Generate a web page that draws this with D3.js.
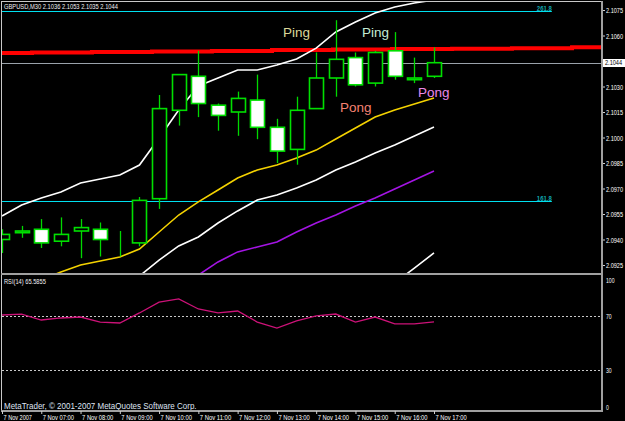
<!doctype html>
<html lang="en">
<head>
<meta charset="utf-8">
<title>GBPUSD,M30</title>
<script src="https://cdn.jsdelivr.net/npm/d3@7/dist/d3.min.js"></script>
<style>
  body { margin:0; background:#000; }
  svg { display:block; background:#000; }
  text { font-family: "Liberation Sans", Arial, sans-serif; }
</style>
</head>
<body>
<svg width="625" height="421"></svg>
<script>
// M30 bars, index 0 = 7 Nov 2007 06:00
var opens  = [2.0940, 2.0944, 2.0946, 2.0939, 2.0945, 2.0946, 2.0939, 2.0938, 2.0964, 2.1016, 2.1036, 2.1019,
              2.1015, 2.1022, 2.1006, 2.0993, 2.1017, 2.1035, 2.1047, 2.1032, 2.1051, 2.1034, 2.1036];
var highs  = [2.0946, 2.0948, 2.0952, 2.0953, 2.0952, 2.0950, 2.0945, 2.0965, 2.1025, 2.1037, 2.1051, 2.1020,
              2.1027, 2.1037, 2.1011, 2.1024, 2.1050, 2.1069, 2.1050, 2.1051, 2.1062, 2.1047, 2.1053];
var lows   = [2.0932, 2.0941, 2.0935, 2.0936, 2.0929, 2.0930, 2.0930, 2.0936, 2.0958, 2.1007, 2.1012, 2.1004,
              2.1001, 2.0999, 2.0985, 2.0984, 2.1017, 2.1024, 2.1030, 2.1030, 2.1034, 2.1032, 2.1035];
var closes = [2.0943, 2.0945, 2.0938, 2.0943, 2.0947, 2.0940, 2.0939, 2.0963, 2.1017, 2.1037, 2.1020, 2.1013,
              2.1023, 2.1006, 2.0992, 2.1016, 2.1035, 2.1046, 2.1031, 2.1050, 2.1036, 2.1035, 2.1044];

// indicator lines (null = off chart)
var upperBand = [2.09538, 2.09603, 2.09644, 2.09679, 2.09732, 2.09756, 2.09779, 2.09838, 2.09997, 2.10162, 2.10303, 2.10350,
                 2.10397, 2.10397, 2.10426, 2.10462, 2.10526, 2.10621, 2.10679, 2.10732, 2.10768, 2.10791, 2.10809];
var yellowMA  = [null, null, 2.09162, 2.09209, 2.09250, 2.09274, 2.09297, 2.09344, 2.09444, 2.09544, 2.09621, 2.09691,
                 2.09762, 2.09809, 2.09838, 2.09879, 2.09926, 2.09991, 2.10056, 2.10121, 2.10162, 2.10197, 2.10232];
var middleMA  = [null, null, null, null, null, null, null, 2.09185, 2.09279, 2.09362, 2.09415, 2.09497,
                 2.09568, 2.09632, 2.09662, 2.09703, 2.09750, 2.09809, 2.09856, 2.09909, 2.09956, 2.10009, 2.10062];
var purpleMA  = [null, null, null, null, null, null, null, null, null, null, 2.09191, 2.09268,
                 2.09327, 2.09356, 2.09385, 2.09444, 2.09497, 2.09544, 2.09597, 2.09644, 2.09697, 2.09750, 2.09803];
var lowerBand = [null, null, null, null, null, null, null, null, null, null, null, null,
                 null, null, null, null, null, null, null, null, 2.09144, 2.09232, 2.09321];

// red stepped line: start index of each step and its level
var redStarts = [0, 1.53, 4.58, 7.64, 10.69, 13.75, 16.85, 19.86, 22.92, 25.97, 29.03, 30.56];
var redLevels = [2.10497, 2.10500, 2.10503, 2.10506, 2.10509, 2.10515, 2.10518, 2.10521, 2.10522, 2.10525, 2.10531, 2.10531];

var fibLabels = ["261.8", "161.8"];
var fibPrices = [2.10744, 2.09626];
var fibEnd = 28;

var lastPrice = 2.1044;

var rsiValues = [70.6, 71.3, 66.9, 68.4, 69.1, 65.4, 64.7, 72.1, 80.1, 82.4, 75.0, 72.1,
                 73.5, 65.4, 61.0, 66.2, 69.9, 71.3, 65.4, 69.1, 64.0, 64.0, 65.59];
var rsiTicks = [0, 30, 70, 100];
var rsiLevels = [30, 70];

var priceTicks = [2.1075, 2.1060, 2.1030, 2.1015, 2.1000, 2.0985, 2.0970, 2.0955, 2.0940, 2.0925];
var timeIdx = [0, 2, 4, 6, 8, 10, 12, 14, 16, 18, 20, 22];
var timeLabels = ["7 Nov 2007", "7 Nov 07:00", "7 Nov 08:00", "7 Nov 09:00", "7 Nov 10:00", "7 Nov 11:00",
                  "7 Nov 12:00", "7 Nov 13:00", "7 Nov 14:00", "7 Nov 15:00", "7 Nov 16:00", "7 Nov 17:00"];

var noteTexts  = ["Ping", "Ping", "Pong", "Pong"];
var noteIdx    = [14.31, 18.33, 17.21, 21.19];
var notePrices = [2.10591, 2.10591, 2.10152, 2.10240];
var noteColors = ["#ddd89a", "#c4ecd4", "#f48272", "#ea88ea"];

var svg = d3.select("svg");
var frameColor = "#a0a0a0";
var smallFont = "8px";
var charW = 2.85; // narrow terminal font, px per character

var x = d3.scaleLinear().domain([0, 22]).range([2, 434]);
var y = d3.scaleLinear().domain([2.0925, 2.1075]).range([265, 10]);
var yr = d3.scaleLinear().domain([0, 100]).range([411, 275]);

// squeeze a label horizontally to the narrow width of the terminal font
function narrow(sel, width) {
  sel.each(function() {
    var t = d3.select(this);
    var target = width || this.textContent.length * charW;
    var s = target / this.getComputedTextLength();
    var x0 = (+t.attr("x") || 0) + (+t.attr("dx") || 0);
    t.attr("transform", "translate(" + x0 + ",0) scale(" + s + ",1) translate(" + (-x0) + ",0)");
  });
}

svg.append("clipPath").attr("id", "mainClip").append("rect")
  .attr("x", 2).attr("y", 2).attr("width", 600).attr("height", 271);
svg.append("clipPath").attr("id", "rsiClip").append("rect")
  .attr("x", 2).attr("y", 275).attr("width", 600).attr("height", 135);

var main = svg.append("g").attr("clip-path", "url(#mainClip)");

// fibonacci levels
fibPrices.forEach(function(p, k) {
  main.append("line")
    .attr("x1", x(0)).attr("x2", x(fibEnd))
    .attr("y1", Math.round(y(p)) + 0.5).attr("y2", Math.round(y(p)) + 0.5)
    .style("stroke", "#00e0f0").style("stroke-width", 1.2);
  main.append("text")
    .attr("x", x(fibEnd) - 15).attr("y", Math.round(y(p)))
    .style("fill", "#10a8b0").style("font-size", smallFont).style("font-weight", "bold")
    .text(fibLabels[k]).call(narrow, 15);
});

// current price line
main.append("line")
  .attr("x1", 2).attr("x2", 602)
  .attr("y1", Math.round(y(lastPrice)) + 0.5).attr("y2", Math.round(y(lastPrice)) + 0.5)
  .style("stroke", "#9aa2aa").style("stroke-width", 1);

// red stepped line
var redLine = d3.line()
  .x(function(d, i) { return x(redStarts[i]); })
  .y(function(d) { return y(d); })
  .curve(d3.curveStepAfter);
main.append("path").datum(redLevels)
  .attr("d", redLine)
  .style("fill", "none").style("stroke", "#ff0000").style("stroke-width", 4);

// moving averages / bands
var maLine = d3.line()
  .defined(function(d) { return d != null; })
  .x(function(d, i) { return x(i); })
  .y(function(d) { return y(d); });
[[upperBand, "#ffffff"], [yellowMA, "#f4d200"], [middleMA, "#ffffff"], [purpleMA, "#a414e4"], [lowerBand, "#ffffff"]]
  .forEach(function(s) {
    main.append("path").datum(s[0])
      .attr("d", maLine)
      .style("fill", "none").style("stroke", s[1]).style("stroke-width", 1.6);
  });

// candles
var candles = main.selectAll("g.candle").data(opens).enter().append("g").attr("class", "candle");
candles.append("line")
  .attr("x1", function(d, i) { return Math.round(x(i)) + 0.5; })
  .attr("x2", function(d, i) { return Math.round(x(i)) + 0.5; })
  .attr("y1", function(d, i) { return y(highs[i]); })
  .attr("y2", function(d, i) { return y(lows[i]); })
  .style("stroke", "#00d800").style("stroke-width", 1.3);
candles.append("rect")
  .attr("x", function(d, i) { return Math.round(x(i)) - 6.5; })
  .attr("width", 14)
  .attr("y", function(d, i) { return y(Math.max(opens[i], closes[i])); })
  .attr("height", function(d, i) { return Math.abs(y(opens[i]) - y(closes[i])); })
  .style("fill", function(d, i) { return closes[i] < opens[i] ? "#ffffff" : "#000000"; })
  .style("stroke", "#00e000").style("stroke-width", 1.6);

// notes
noteTexts.forEach(function(t, k) {
  main.append("text")
    .attr("x", x(noteIdx[k])).attr("y", y(notePrices[k]))
    .style("font-size", "13.5px").style("fill", noteColors[k])
    .text(t);
});

// header
svg.append("text").attr("x", 4).attr("y", 9.5)
  .style("fill", "#f0f0f0").style("font-size", smallFont)
  .text("GBPUSD,M30  2.1036 2.1053 2.1035 2.1044").call(narrow, 114);

// RSI panel
var rsi = svg.append("g").attr("clip-path", "url(#rsiClip)");
rsiLevels.forEach(function(v) {
  rsi.append("line")
    .attr("x1", 2).attr("x2", 602)
    .attr("y1", Math.round(yr(v)) + 0.5).attr("y2", Math.round(yr(v)) + 0.5)
    .style("stroke", "#c8c8c8").style("stroke-width", 1).style("stroke-dasharray", "2,2");
});
rsi.append("path").datum(rsiValues)
  .attr("d", d3.line().x(function(d, i) { return x(i); }).y(function(d) { return yr(d); }))
  .style("fill", "none").style("stroke", "#cc1278").style("stroke-width", 1.3);

svg.append("text").attr("x", 4).attr("y", 284.5)
  .style("fill", "#f0f0f0").style("font-size", smallFont)
  .text("RSI(14) 65.5855").call(narrow, 42);

svg.append("text").attr("x", 4).attr("y", 409)
  .style("fill", "#dfe3f2").style("font-size", "9.5px")
  .text("MetaTrader, \u00a9 2001-2007 MetaQuotes Software Corp.").call(narrow, 193);

// frame
svg.append("line").attr("x1", 1).attr("x2", 603).attr("y1", 1.5).attr("y2", 1.5)
  .style("stroke", "#c8c8c8").style("stroke-width", 1);
svg.append("line").attr("x1", 1.5).attr("x2", 1.5).attr("y1", 1).attr("y2", 412)
  .style("stroke", "#c8c8c8").style("stroke-width", 1);
svg.append("line").attr("x1", 1).attr("x2", 603).attr("y1", 274).attr("y2", 274)
  .style("stroke", frameColor).style("stroke-width", 2);
svg.append("line").attr("x1", 1).attr("x2", 603).attr("y1", 411).attr("y2", 411)
  .style("stroke", frameColor).style("stroke-width", 2);

// axes
var priceAxis = svg.append("g").attr("transform", "translate(602,0)")
  .call(d3.axisRight(y).tickValues(priceTicks).tickFormat(d3.format(".4f")).tickSize(3).tickPadding(1));
var rsiAxis = svg.append("g").attr("transform", "translate(602,0)")
  .call(d3.axisRight(yr).tickValues(rsiTicks).tickFormat(d3.format("d")).tickSize(0).tickPadding(4));
rsiAxis.selectAll(".tick text").attr("dy", function(d) { return d === 100 ? "0.9em" : d === 0 ? "-0.2em" : "0.32em"; });
var timeAxis = svg.append("g").attr("transform", "translate(0,411)")
  .call(d3.axisBottom(x).tickValues(timeIdx).tickFormat(function(d, i) { return timeLabels[i]; }).tickSize(3).tickPadding(0));
timeAxis.selectAll(".tick text").attr("text-anchor", "start").attr("dx", 1);

[priceAxis, rsiAxis, timeAxis].forEach(function(a) {
  a.select(".domain").style("stroke", frameColor).style("stroke-width", 2);
  a.selectAll(".tick line").style("stroke", "#d0d0d0");
  a.selectAll(".tick text").style("fill", "#ffffff").style("font-size", smallFont)
    .style("font-family", "'Liberation Sans', Arial, sans-serif").call(narrow);
});
timeAxis.select(".domain").remove();
rsiAxis.select(".domain").attr("d", "M0,1V411");
priceAxis.select(".domain").attr("d", "M0,1V411");

// current price tag
svg.append("rect").attr("x", 603).attr("y", Math.round(y(lastPrice)) - 4).attr("width", 22).attr("height", 8)
  .style("fill", "#ffffff");
svg.append("text").attr("x", 605).attr("y", y(lastPrice)).attr("dy", "0.32em")
  .style("fill", "#000000").style("font-size", smallFont)
  .text(d3.format(".4f")(lastPrice)).call(narrow);
</script>
</body>
</html>
